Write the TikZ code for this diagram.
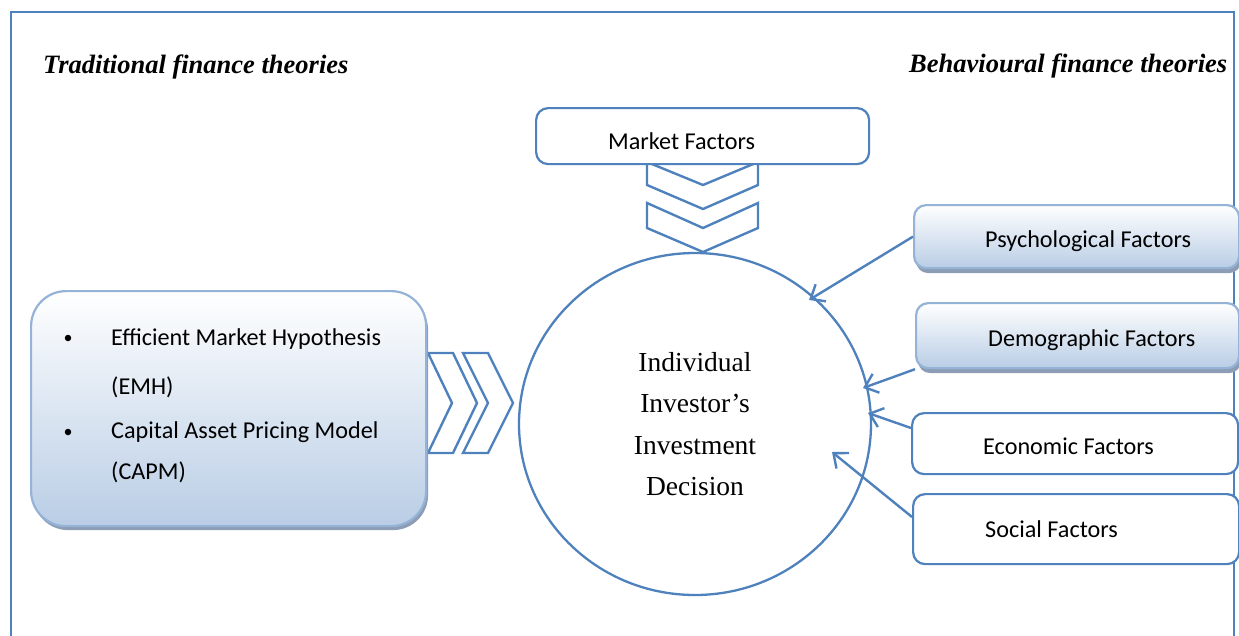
\documentclass[tikz,border=0pt]{standalone}
\usepackage{fontspec}
\setmainfont{Liberation Serif}
\setsansfont{Carlito}
\usetikzlibrary{shapes.geometric,arrows.meta,shadows}

\definecolor{ln}{HTML}{4F81BD}
\definecolor{softln}{HTML}{95B3D7}
\definecolor{gradbot}{HTML}{B9CDE5}
\definecolor{shade}{HTML}{8C9DB5}

\begin{document}
\begin{tikzpicture}[x=1pt,y=-1pt,
  box/.style={draw=ln, line width=2.2pt, fill=white, rounded corners=12pt,
    inner sep=0pt, anchor=north west},
  softbox/.style={draw=softln, line width=2.2pt, top color=white, bottom color=gradbot,
    rounded corners=12pt, inner sep=0pt, anchor=north west,
    drop shadow={shadow xshift=2pt, shadow yshift=-#1, fill=shade, opacity=1}},
  softbox/.default=5pt,
  lbl/.style={font=\sffamily\fontsize{24.2}{29}\selectfont, anchor=base west, inner sep=0pt},
  head/.style={font=\bfseries\itshape\fontsize{26.5}{31}\selectfont, anchor=base west, inner sep=0pt},
  feed/.style={draw=ln, line width=2.4pt, -{Straight Barb[length=12pt,width=20pt]}},
  chev/.style={draw=ln, line width=2.4pt, line join=miter},
  bullet/.style={circle, fill=black, minimum size=6.5pt, inner sep=0pt},
]
\useasboundingbox (0,0) rectangle (1239,635);

% outer frame, open at the bottom
\draw[ln, line width=1.6pt] (11,640) -- (11,12) -- (1234,12) -- (1234,640);

% chevrons pointing down from the market box
\draw[chev] (647,162) -- (703,185) -- (758,162) -- (758,185) -- (703,209) -- (647,185) -- cycle;
\draw[chev] (647,203) -- (703,228) -- (758,203) -- (758,228) -- (703,252) -- (647,228) -- cycle;

% chevrons pointing right from the traditional theories box
\draw[chev] (428,353) -- (453,353) -- (477,403) -- (453,453) -- (428,453) -- (452,403) -- cycle;
\draw[chev] (463,353) -- (488,353) -- (513,403) -- (488,453) -- (463,453) -- (488,403) -- cycle;

% market factors
\node[box, minimum width=333pt, minimum height=56pt] (mkt) at (535,107) {};
\node[lbl] (mkt-l) at (608,149) {Market Factors};

% traditional finance theories box
\node[softbox=4pt, rounded corners=35pt, minimum width=395pt, minimum height=235pt] (trad) at (30,290) {};
\node[bullet] (b1) at (68,338) {};
\node[bullet] (b2) at (68,432) {};
\node[lbl] (t1) at (111,345) {Efficient Market Hypothesis};
\node[lbl] (t2) at (111,394) {(EMH)};
\node[lbl] (t3) at (111,438) {Capital Asset Pricing Model};
\node[lbl] (t4) at (111,479) {(CAPM)};

% behavioural factor boxes
\node[softbox, minimum width=325pt, minimum height=63pt] (psy) at (913,204) {};
\node[softbox, minimum width=323pt, minimum height=65pt] (dem) at (915,302) {};
\node[box, minimum width=326pt, minimum height=61pt] (eco) at (911,412) {};
\node[box, minimum width=326pt, minimum height=70pt] (soc) at (912,493) {};
\node[lbl] (psy-l) at (985,247) {Psychological Factors};
\node[lbl] (dem-l) at (988,346) {Demographic Factors};
\node[lbl] (eco-l) at (983,454) {Economic Factors};
\node[lbl] (soc-l) at (985,537) {Social Factors};

% the decision
\node[ellipse, draw=ln, line width=2.3pt, minimum width=352pt, minimum height=342pt,
  inner sep=0pt, align=center, font=\fontsize{27.5}{41.3}\selectfont]
  (dec) at (695,424) {Individual\\Investor’s\\Investment\\Decision};

% influences on the decision
\coordinate (psyTip) at (809,300);
\coordinate (demTip) at (863,388);
\coordinate (ecoTip) at (868,413);
\coordinate (socTip) at (832,452);
\draw[feed] (psy.west) -- (psyTip);
\draw[feed] (dem.south west) -- (demTip);
\draw[feed] (eco.west |- 0,428) -- (ecoTip);
\draw[feed] (soc.west |- 0,517) -- (socTip);

% headings
\node[head] (trad-h) at (43,73) {Traditional finance theories};
\node[head] (beh-h) at (909,72) {Behavioural finance theories};

\node[circle, fill=black, minimum size=2.5pt, inner sep=0pt] (dot) at (1204,57) {};
\end{tikzpicture}
\end{document}
